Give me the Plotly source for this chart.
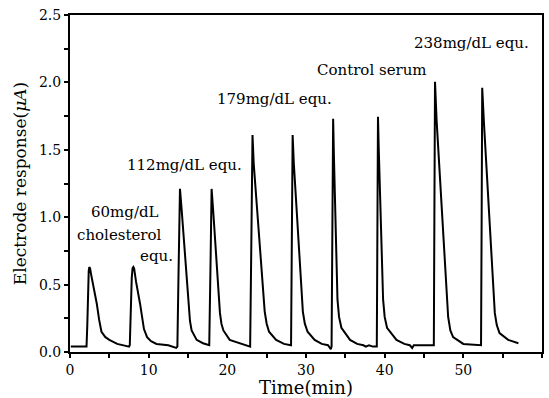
import plotly.graph_objects as go

time_min = [
    0.1, 2.1, 2.2, 2.3, 2.38, 2.45, 2.55, 2.7, 3.0, 3.4, 3.7, 4.0, 4.5, 5.0, 6.0, 7.0, 7.5, 7.6,
    7.7, 7.85, 7.95, 8.05, 8.15, 8.4, 8.9, 9.4, 9.8, 10.3, 11.0, 12.5, 13.5, 13.65,
    13.8, 13.98, 14.2, 15.03, 15.25, 15.46, 16.1, 16.9, 17.7,
    17.85, 18.0, 18.2, 19.06, 19.25, 19.5, 20.3, 21.8, 22.9,
    23.05, 23.2, 23.35, 24.75, 25.0, 25.3, 26.2, 27.2, 28.1,
    28.2, 28.3, 28.45, 29.6, 29.85, 30.2, 31.1, 32.0, 32.8, 33.15, 33.25,
    33.35, 33.45, 33.55, 34.0, 34.2, 34.5, 35.6, 36.5, 37.3, 37.6, 38.0, 38.5, 39.0,
    39.08, 39.15, 39.25, 39.8, 40.0, 40.3, 41.5, 42.5, 43.2, 43.5, 43.7, 45.5, 46.25,
    46.32, 46.4, 46.6, 48.07, 48.35, 48.7, 50.0, 51.9, 52.25,
    52.33, 52.4, 52.6, 54.0, 54.25, 54.6, 55.7, 57.0,
]
response_uA = [
    0.04, 0.04, 0.20, 0.48, 0.60, 0.63, 0.62, 0.57, 0.48, 0.36, 0.24, 0.15, 0.11, 0.09, 0.06, 0.05, 0.04, 0.05,
    0.30, 0.55, 0.62, 0.63, 0.62, 0.52, 0.36, 0.17, 0.11, 0.08, 0.06, 0.05, 0.03, 0.04,
    0.60, 1.21, 1.05, 0.34, 0.23, 0.16, 0.09, 0.065, 0.05,
    0.60, 1.21, 1.05, 0.29, 0.21, 0.16, 0.09, 0.06, 0.04,
    0.80, 1.61, 1.40, 0.30, 0.21, 0.15, 0.09, 0.06, 0.05,
    0.80, 1.61, 1.40, 0.30, 0.21, 0.15, 0.09, 0.06, 0.05, 0.02, 0.04,
    0.90, 1.73, 1.45, 0.39, 0.26, 0.18, 0.09, 0.06, 0.05, 0.04, 0.05, 0.04, 0.04,
    0.90, 1.745, 1.50, 0.39, 0.26, 0.18, 0.09, 0.06, 0.05, 0.03, 0.05, 0.05, 0.05,
    1.00, 2.005, 1.72, 0.26, 0.16, 0.11, 0.06, 0.05, 0.05,
    1.00, 1.96, 1.72, 0.29, 0.20, 0.14, 0.09, 0.065,
]

label_texts = ["60mg/dL", "cholesterol", "equ.", "112mg/dL equ.", "179mg/dL equ.",
               "Control serum", "238mg/dL equ."]
label_x = [7.0, 6.3, 11.0, 14.5, 26.0, 38.4, 51.1]
label_y = [1.04, 0.87, 0.71, 1.39, 1.88, 2.09, 2.29]

FONT = "DejaVu Serif"

fig = go.Figure()
fig.add_trace(go.Scatter(x=time_min, y=response_uA, mode="lines",
                         line=dict(color="black", width=2), showlegend=False))

for t, x, y in zip(label_texts, label_x, label_y):
    fig.add_annotation(x=x, y=y, text=t, showarrow=False,
                       font=dict(family=FONT, size=15, color="black"))

axis_common = dict(showline=True, linecolor="black", linewidth=2, mirror=True,
                   ticks="outside", ticklen=4, tickwidth=1.5, tickcolor="black",
                   showgrid=False, zeroline=False, automargin=False,
                   tickfont=dict(family=FONT, size=14, color="black"))

fig.update_xaxes(range=[0, 60], dtick=10, tick0=0,
                 minor=dict(dtick=5, ticks="outside", ticklen=4, tickcolor="black"),
                 title=dict(text="Time(min)", font=dict(family=FONT, size=18, color="black"),
                            standoff=8),
                 **axis_common)
fig.update_yaxes(range=[0, 2.5], dtick=0.5, tick0=0, tickformat=".1f",
                 minor=dict(dtick=0.25, ticks="outside", ticklen=4, tickcolor="black"),
                 title=dict(text="Electrode response(<i>μA</i>)",
                            font=dict(family=FONT, size=17, color="black"), standoff=8),
                 **axis_common)

fig.update_layout(width=549, height=398, margin=dict(l=70, r=7, t=15, b=46),
                  plot_bgcolor="white", paper_bgcolor="white")

fig.write_html("out.html")
